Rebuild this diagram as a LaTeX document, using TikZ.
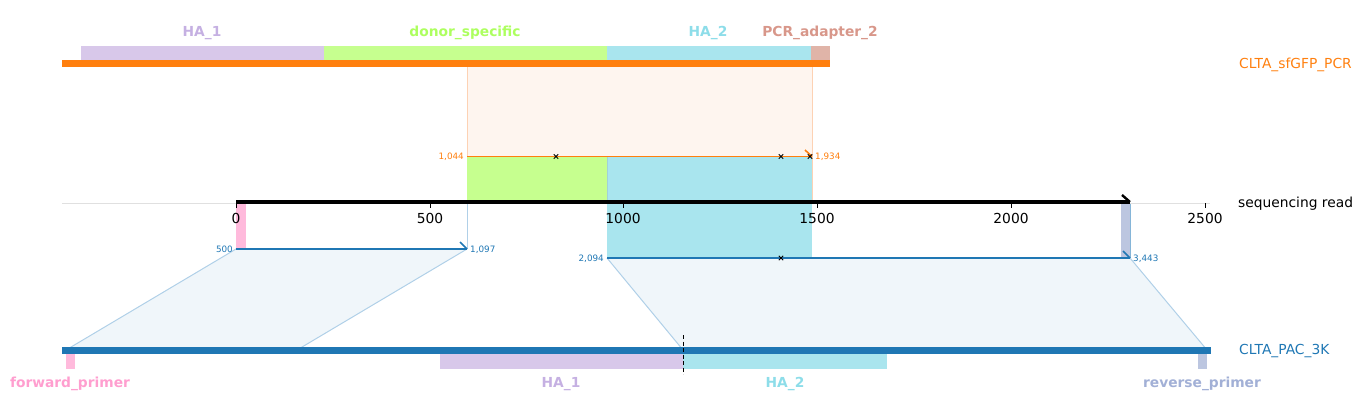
\documentclass[tikz,border=0pt]{standalone}
\usepackage{fontspec}
\setmainfont{DejaVu Sans}
\begin{document}
\definecolor{tabor}{HTML}{FF7F0E}
\definecolor{tabbl}{HTML}{1F77B4}
\definecolor{haone}{HTML}{D8C8EA}
\definecolor{haonet}{HTML}{C5B0E2}
\definecolor{donor}{HTML}{C6FF8F}
\definecolor{donort}{HTML}{ADFF5F}
\definecolor{hatwo}{HTML}{A9E5EE}
\definecolor{hatwot}{HTML}{8DDDE9}
\definecolor{pcra}{HTML}{E0B4A8}
\definecolor{pcrat}{HTML}{D8978A}
\definecolor{fwd}{HTML}{FFBADC}
\definecolor{fwdt}{HTML}{FF9ECF}
\definecolor{rev}{HTML}{BCC6E0}
\definecolor{revt}{HTML}{A2B0D6}
\definecolor{lorf}{HTML}{FEF5EF}
\definecolor{lore}{HTML}{FDD2B4}
\definecolor{lblf}{HTML}{F0F6FA}
\definecolor{lble}{HTML}{B0D0E8}
\begin{tikzpicture}[x=1pt,y=-1pt,
  feat/.style={font=\fontsize{13.8}{15}\selectfont\bfseries, inner sep=0pt},
  tick/.style={font=\fontsize{13.8}{15}\selectfont, inner sep=0pt},
  small/.style={font=\fontsize{8.8}{10}\selectfont, inner sep=0pt},
  seqname/.style={font=\fontsize{13.8}{15}\selectfont, inner sep=0pt, anchor=west},
  xmark/.style={black, line width=1pt},
  hook/.style={line width=1.6pt}]
\useasboundingbox (0,0) rectangle (1364,415);

% ---------- top sequence CLTA_sfGFP_PCR ----------
\fill[lorf] (467,67) rectangle (812,157);
\draw[lore, line width=0.8pt] (467,60) -- (467,203);
\draw[lore, line width=0.8pt] (812,60) -- (812,203);
\fill[haone] (81,46) rectangle (324,60);
\fill[donor] (324,46) rectangle (607,60);
\fill[hatwo] (607,46) rectangle (811,60);
\fill[pcra] (811,46) rectangle (830,60);
\fill[tabor] (62,60) rectangle (830,67);
\node[feat, text=haonet] (lha1) at (202,33) {HA\_1};
\node[feat, text=donort] (ldon) at (465,33) {donor\_specific};
\node[feat, text=hatwot] (lha2) at (708,33) {HA\_2};
\node[feat, text=pcrat] (lpcr) at (820,33) {PCR\_adapter\_2};
\node[seqname, text=tabor] (nsf) at (1239,65) {CLTA\_sfGFP\_PCR};

% ---------- middle alignment blocks ----------
\fill[donor] (467,157) rectangle (607,203);
\fill[hatwo] (607,157) rectangle (812,258);
\draw[hatwo!80!gray, line width=0.6pt] (607,157) -- (607,258);

% light blue parallelograms
\coordinate (pa1) at (236,249);
\coordinate (pa2) at (467,249);
\coordinate (pa3) at (297,350);
\coordinate (pa4) at (66,350);
\fill[lblf] (pa1) -- (pa2) -- (pa3) -- (pa4) -- cycle;
\draw[lble, line width=1pt] (pa2) -- (pa3);
\draw[lble, line width=1pt] (pa1) -- (pa4);
\draw[lble, line width=0.8pt] (467,203) -- (pa2);
\coordinate (pb1) at (607,258);
\coordinate (pb2) at (1130,258);
\coordinate (pb3) at (1207,350);
\coordinate (pb4) at (683,350);
\fill[lblf] (pb1) -- (pb2) -- (pb3) -- (pb4) -- cycle;
\draw[lble, line width=1pt] (pb2) -- (pb3);
\draw[lble, line width=1pt] (pb1) -- (pb4);
\fill[hatwo] (607,203) rectangle (812,258);

% primer marks on read
\fill[fwd] (236,203) rectangle (246,249);
\fill[rev] (1121,203) rectangle (1130,258);
\draw[lble!70!tabbl, line width=0.8pt] (1130,203) -- (1130,258);

% ---------- axis ----------
\draw[black!12, line width=0.8pt] (62,203) -- (1210,203);
\coordinate (ax0) at (236,202);
\coordinate (ax1) at (1130,202);
\draw[line width=3.2pt] (ax0) -- (ax1);
\draw[line width=2.4pt] (1122,195) -- (ax1);
\foreach \x/\l in {236/0,430/500,623/1000,817/1500,1011/2000,1205/2500}{
  \draw[line width=0.8pt] (\x,203) -- (\x,208);
  \node[tick, anchor=north] (t\l) at (\x,213.5) {\l};
}
\node[seqname] (nseq) at (1238,203.5) {sequencing read};

% orange alignment line
\coordinate (o1) at (467,156.5);
\coordinate (o2) at (812,156.5);
\draw[tabor, hook] (o1) -- (o2);
\draw[tabor, hook] (805,150) -- (o2);
\node[small, text=tabor, anchor=east] (o1l) at (464,157) {1,044};
\node[small, text=tabor, anchor=west] (o2l) at (815,157) {1,934};

% blue alignment lines
\coordinate (b1) at (236,249);
\coordinate (b2) at (467,249);
\draw[tabbl, hook] (b1) -- (b2);
\draw[tabbl, hook] (460,242) -- (b2);
\node[small, text=tabbl, anchor=east] (b1l) at (233,249.5) {500};
\node[small, text=tabbl, anchor=west] (b2l) at (470,249.5) {1,097};
\coordinate (c1) at (607,258);
\coordinate (c2) at (1130,258);
\draw[tabbl, hook] (c1) -- (c2);
\draw[tabbl, hook] (1123,251) -- (c2);
\node[small, text=tabbl, anchor=east] (c1l) at (604,258.5) {2,094};
\node[small, text=tabbl, anchor=west] (c2l) at (1133,258.5) {3,443};

% x marks
\foreach \px/\py in {556/156.5,781/156.5,810/156.5,781/258}{
  \draw[xmark] (\px-2.2,\py-2.2) -- (\px+2.2,\py+2.2);
  \draw[xmark] (\px-2.2,\py+2.2) -- (\px+2.2,\py-2.2);
}

% ---------- bottom sequence CLTA_PAC_3K ----------
\fill[tabbl] (62,347) rectangle (1211,354);
\fill[fwd] (66,354) rectangle (75,369);
\fill[haone] (440,354) rectangle (683,369);
\fill[hatwo] (683,354) rectangle (887,369);
\fill[rev] (1198,354) rectangle (1207,369);
\draw[black, line width=1pt, dash pattern=on 4pt off 2.5pt] (683,335) -- (683,374);
\node[seqname, text=tabbl] (npac) at (1239,351.5) {CLTA\_PAC\_3K};
\node[feat, text=fwdt] (lfwd) at (70,384) {forward\_primer};
\node[feat, text=haonet] (lha1b) at (561,384) {HA\_1};
\node[feat, text=hatwot] (lha2b) at (785,384) {HA\_2};
\node[feat, text=revt] (lrev) at (1202,384) {reverse\_primer};
\end{tikzpicture}
\end{document}
